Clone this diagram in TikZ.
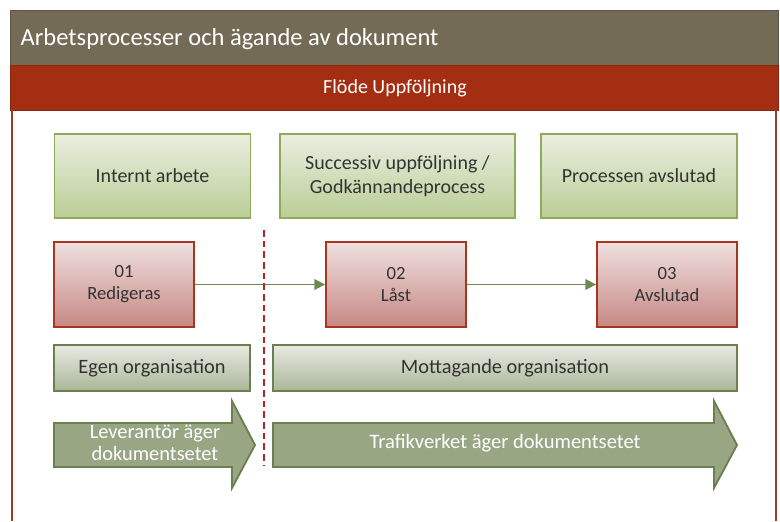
\documentclass[tikz,border=0pt]{standalone}
\usepackage{fontspec}
\setmainfont{Carlito}
\usepackage{tikz}
\usetikzlibrary{arrows.meta}

\definecolor{headgray}{HTML}{736B55}
\definecolor{bandred}{HTML}{A32E12}
\definecolor{framered}{HTML}{A53A22}
\definecolor{phaseline}{HTML}{8EAA5A}
\definecolor{stateline}{HTML}{A8361E}
\definecolor{orgline}{HTML}{6B7F50}
\definecolor{flowgreen}{HTML}{6B8A50}
\definecolor{textgray}{HTML}{333333}

\begin{document}
\begin{tikzpicture}[x=0.75pt,y=-0.75pt,
  phase/.style={draw=phaseline, line width=1.4pt, top color={rgb,255:red,234;green,238;blue,224}, bottom color={rgb,255:red,186;green,206;blue,150},
    align=center, text=textgray, font=\fontsize{15}{17.5}\selectfont, minimum height=63pt},
  state/.style={draw=stateline, line width=1.4pt, top color={rgb,255:red,240;green,224;blue,224}, bottom color={rgb,255:red,198;green,136;blue,131},
    align=center, text=textgray, font=\fontsize{14}{16.5}\selectfont, minimum width=105pt, minimum height=64pt},
  org/.style={draw=orgline, line width=1.4pt, top color={rgb,255:red,232;green,234;blue,226}, bottom color={rgb,255:red,170;green,182;blue,152},
    text=textgray, font=\fontsize{15.3}{17}\selectfont, minimum height=34.5pt},
  owner/.style={draw=orgline, line width=1.4pt, fill={rgb,255:red,152;green,166;blue,132}},
  flow/.style={-{Triangle[length=8pt,width=8pt]}, draw=flowgreen, line width=1.2pt}]
  \useasboundingbox (0,0) rectangle (780,521);

  % title bands
  \draw[fill=headgray, draw=headgray!80!black] (10,10) rectangle (778,65);
  \draw[fill=bandred, draw=bandred!85!black] (10,65) rectangle (778,110);
  \draw[framered, line width=2.2pt] (12,110) -- (12,521);
  \draw[framered, line width=2.2pt] (776,110) -- (776,521);
  \node[anchor=west, text=white, font=\fontsize{18.4}{21}\selectfont] (title) at (16,39) {Arbetsprocesser och ägande av dokument};
  \node[text=white, font=\fontsize{15}{17}\selectfont] (band) at (395,88) {Flöde Uppföljning};

  % phases
  \node[phase, minimum width=147pt] (intern) at (152.5,176) {Internt arbete};
  \node[phase, minimum width=176pt] (review) at (397.5,176) {Successiv uppföljning /\\Godkännandeprocess};
  \node[phase, minimum width=147pt] (closed) at (639,176) {Processen avslutad};

  % states
  \node[state] (s1) at (124,284.5) {01\\Redigeras};
  \node[state] (s2) at (396,284.5) {02\\Låst};
  \node[state] (s3) at (667,284.5) {03\\Avslutad};
  \draw[flow] (s1) -- (s2);
  \draw[flow] (s2) -- (s3);

  % border between own and receiving organisation
  \coordinate (cuttop) at (264,230);
  \coordinate (cutbot) at (264,465);
  \draw[red!65!black!85, line width=1.1pt, dash pattern=on 5pt off 3pt] (cuttop) -- (cutbot);

  % organisations
  \node[org, minimum width=147pt] (own) at (152,368) {Egen organisation};
  \node[org, minimum width=348pt] (recv) at (505,368) {Mottagande organisation};

  % ownership arrows
  \draw[owner] (54,423) -- (232,423) -- (232,401) -- (255,445) -- (232,488) -- (232,467) -- (54,467) -- cycle;
  \node[align=center, text=white, font=\fontsize{15.3}{16.5}\selectfont] (lev) at (155,443) {Leverantör äger\\dokumentsetet};
  \draw[owner] (273,423) -- (714,423) -- (714,401) -- (737,445) -- (714,488) -- (714,467) -- (273,467) -- cycle;
  \node[text=white, font=\fontsize{15.4}{17}\selectfont] (trv) at (505,443) {Trafikverket äger dokumentsetet};
\end{tikzpicture}
\end{document}
